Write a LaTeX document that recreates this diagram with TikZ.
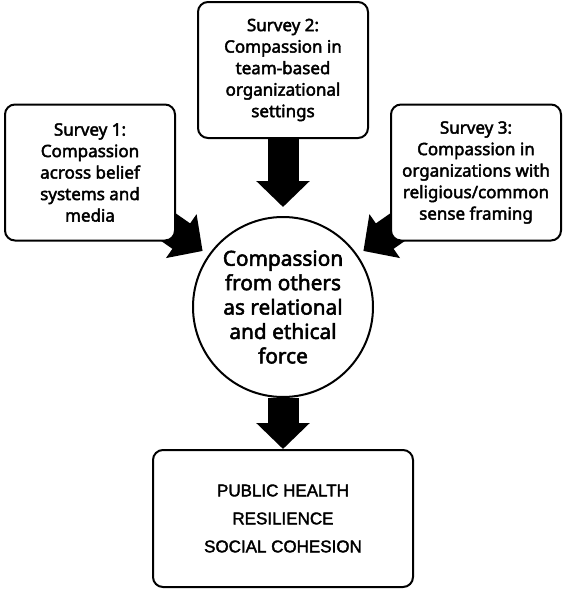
\documentclass[tikz,border=0pt]{standalone}
\usepackage{fontspec}
\setmainfont{Noto Sans}[UprightFeatures={FakeBold=2.5}]
\newfontfamily\arialfont{Liberation Sans}[UprightFeatures={FakeBold=2}]
\usetikzlibrary{arrows.meta, positioning, backgrounds}

\begin{document}
\begin{tikzpicture}[
  x=0.5pt, y=0.5pt,
  node distance=25pt,
  survey/.style={draw,line width=1pt,rounded corners=5pt,fill=white,align=center,
                 minimum width=85pt,minimum height=68pt,inner sep=2pt,
                 font=\fontsize{8.5}{10.75}\selectfont},
  hub/.style={draw,circle,line width=1pt,fill=white,align=center,minimum size=90pt,
              inner sep=0pt,font=\fontsize{10.4}{12.2}\selectfont},
  outcome/.style={survey,minimum width=130pt,minimum height=68.5pt,
                  font=\arialfont\fontsize{8.5}{14}\selectfont},
  fat/.style={line width=15.5pt,draw=black,-{Triangle[length=13pt,width=26pt]}},
]
\useasboundingbox (0,0) rectangle (567,-590);

% centre
\node[hub] (core) at (283,-307) {Compassion\\from others\\as relational\\and ethical\\force};

% surveys
\node[survey, above=38.5pt of core] (s2) {Survey 2:\\Compassion in\\team-based\\organizational\\settings};
\node[survey] (s1) at (90,-172.5) {Survey 1:\\Compassion\\across belief\\systems and\\media};
\node[survey] (s3) at (476,-172.5) {Survey 3:\\Compassion in\\organizations with\\religious/common\\sense framing};

% outcomes
\node[outcome, below=25.5pt of core] (out) {PUBLIC HEALTH\\RESILIENCE\\SOCIAL COHESION};

% Arrows
\begin{scope}[on background layer]
\draw[fat, shorten >=4.5pt] (s2) -- (core);
\draw[fat, shorten >=3.5pt] (s1.center) -- (core);
\draw[fat, shorten >=3.5pt] (s3.center) -- (core);
\draw[fat] (core) -- (out);
\end{scope}

\end{tikzpicture}
\end{document}
